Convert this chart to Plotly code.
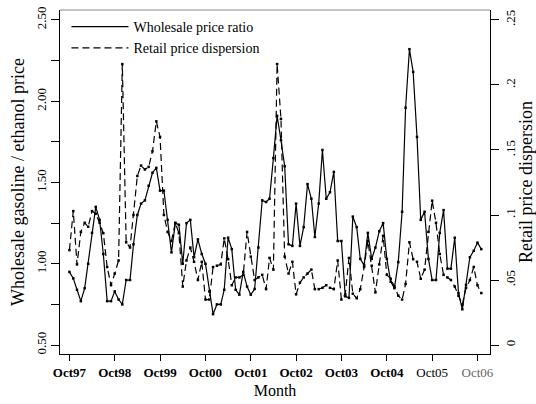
import plotly.graph_objects as go
import pandas as pd

# Monthly data, Oct 1997 onward
start_month = "1997-10-01"
wholesale_ratio = [
    0.95, 0.91, 0.84, 0.77, 0.85, 1.00, 1.19, 1.35, 1.27, 1.06,
    0.77, 0.77, 0.83, 0.78, 0.75, 0.90, 0.90, 1.12, 1.30, 1.37,
    1.39, 1.48, 1.56, 1.59, 1.45, 1.45, 1.27, 1.07, 1.25, 1.24,
    1.00, 1.25, 1.27, 1.04, 1.15, 1.06, 1.00, 0.83, 0.69, 0.75,
    0.75, 0.84, 1.16, 1.09, 0.84, 0.81, 0.95, 0.86, 0.81, 0.845,
    1.10, 1.39, 1.38, 1.40, 1.65, 1.91, 1.76, 1.60, 1.12, 1.11,
    1.37, 1.11, 1.225, 1.49, 1.40, 1.165, 1.37, 1.70, 1.40, 1.44,
    1.565, 1.14, 1.14, 0.80, 0.79, 1.29, 1.225, 1.03, 0.99, 1.19,
    1.03, 1.10, 1.20, 1.25, 1.03, 0.89, 0.85, 1.01, 1.32, 1.96,
    2.32, 2.18, 1.78, 1.27, 1.32, 1.03, 0.90, 0.90, 1.19, 1.33,
    0.97, 0.97, 1.16, 0.82, 0.72, 0.87, 1.04, 1.08, 1.13, 1.09,
]
retail_dispersion = [
    0.073, 0.103, 0.062, 0.087, 0.094, 0.091, 0.103, 0.101, 0.094, 0.086,
    0.060, 0.046, 0.055, 0.065, 0.216, 0.079, 0.075, 0.100, 0.130, 0.138,
    0.135, 0.137, 0.149, 0.172, 0.160, 0.100, 0.087, 0.080, 0.094, 0.086,
    0.045, 0.065, 0.075, 0.064, 0.050, 0.064, 0.035, 0.035, 0.060, 0.061,
    0.062, 0.082, 0.066, 0.046, 0.052, 0.052, 0.054, 0.087, 0.068, 0.050,
    0.052, 0.054, 0.043, 0.067, 0.058, 0.216, 0.174, 0.068, 0.055, 0.064,
    0.039, 0.048, 0.052, 0.055, 0.058, 0.043, 0.043, 0.044, 0.046, 0.044,
    0.043, 0.065, 0.035, 0.039, 0.067, 0.0395, 0.036, 0.043, 0.060, 0.080,
    0.061, 0.0405, 0.062, 0.084, 0.054, 0.051, 0.045, 0.038, 0.035, 0.047,
    0.079, 0.066, 0.064, 0.051, 0.058, 0.087, 0.111, 0.094, 0.070, 0.054,
    0.052, 0.050, 0.045, 0.038, 0.031, 0.044, 0.050, 0.060, 0.046, 0.040,
]
months = pd.date_range(start_month, periods=len(wholesale_ratio), freq="MS")

x_tick_dates = pd.date_range("1997-10-01", "2006-10-01", freq="12MS")
x_tick_labels = ["<b>Oct97</b>", "<b>Oct98</b>", "<b>Oct99</b>", "<b>Oct00</b>",
                 "<b>Oct01</b>", "<b>Oct02</b>", "<b>Oct03</b>", "<b>Oct04</b>",
                 "Oct05", "<span style='color:#666'>Oct06</span>"]
left_tick_vals = [0.50, 0.75, 1.00, 1.25, 1.50, 1.75, 2.00, 2.25, 2.50]
left_tick_text = ["0.50", "", "1.00", "", "1.50", "", "2.00", "", "2.50"]
right_tick_vals = [0, 0.05, 0.10, 0.15, 0.20, 0.25]
right_tick_text = ["0", ".05", ".1", ".15", ".2", ".25"]

FONT = "Liberation Serif"
left_range = [0.445, 2.561]
right_range = [(left_range[0] - 0.5) / 8, (left_range[1] - 0.5) / 8]

fig = go.Figure()
series = [
    ("Wholesale price ratio", wholesale_ratio, "y", "solid"),
    ("Retail price dispersion", retail_dispersion, "y2", "7px,4px"),
]
for name, vals, yax, dash in series:
    fig.add_trace(go.Scatter(
        x=months, y=vals, name=name, mode="lines", legendgroup=name,
        line=dict(color="black", width=1.2, dash=dash), yaxis=yax))
for name, vals, yax, dash in series:
    fig.add_trace(go.Scatter(
        x=months, y=vals, name=name, mode="markers", showlegend=False,
        legendgroup=name,
        marker=dict(symbol="square", size=2.5, color="black"), yaxis=yax))

fig.update_layout(
    width=536, height=404,
    margin=dict(l=60, r=46, t=7, b=49),
    paper_bgcolor="white", plot_bgcolor="white",
    font=dict(family=FONT, color="black", size=13),
    showlegend=True,
    legend=dict(x=0.015, y=0.997, xanchor="left", yanchor="top",
                bgcolor="rgba(0,0,0,0)", font=dict(size=14, family=FONT),
                itemwidth=57, tracegroupgap=0),
    xaxis=dict(
        range=["1997-07-17", "2007-01-10"],
        tickvals=x_tick_dates, ticktext=x_tick_labels,
        ticks="outside", ticklen=6, tickcolor="black", tickwidth=1,
        showline=True, linecolor="black", linewidth=1,
        showgrid=False, zeroline=False,
        tickfont=dict(size=13, family=FONT),
        title=dict(text="Month", font=dict(size=16, family=FONT), standoff=6),
    ),
    yaxis=dict(
        range=left_range,
        tickvals=left_tick_vals, ticktext=left_tick_text, tickangle=-90,
        ticks="outside", ticklen=8, tickcolor="black", tickwidth=1,
        showline=True, linecolor="black", linewidth=1,
        showgrid=False, zeroline=False,
        tickfont=dict(size=13, family=FONT),
        title=dict(text="Wholesale gasoline / ethanol price",
                   font=dict(size=18, family=FONT), standoff=4),
    ),
    yaxis2=dict(
        range=right_range, overlaying="y", side="right",
        tickvals=right_tick_vals, ticktext=right_tick_text, tickangle=-90,
        ticks="outside", ticklen=8, tickcolor="black", tickwidth=1,
        showline=True, linecolor="black", linewidth=1,
        showgrid=False, zeroline=False,
        tickfont=dict(size=13, family=FONT),
    ),
    annotations=[dict(text="Retail price dispersion", xref="paper", yref="paper",
                      x=1, y=0.5, xanchor="center", yanchor="middle",
                      xshift=36, textangle=-90, showarrow=False,
                      font=dict(size=18, family=FONT, color="black"))],
    shapes=[dict(type="line", xref="paper", yref="paper", x0=0, x1=1, y0=1, y1=1,
                 line=dict(color="#888", width=1))],
)

fig.write_html("out.html", config={"displayModeBar": False},
               post_script="document.body.style.margin='0';document.body.style.padding='0';")
